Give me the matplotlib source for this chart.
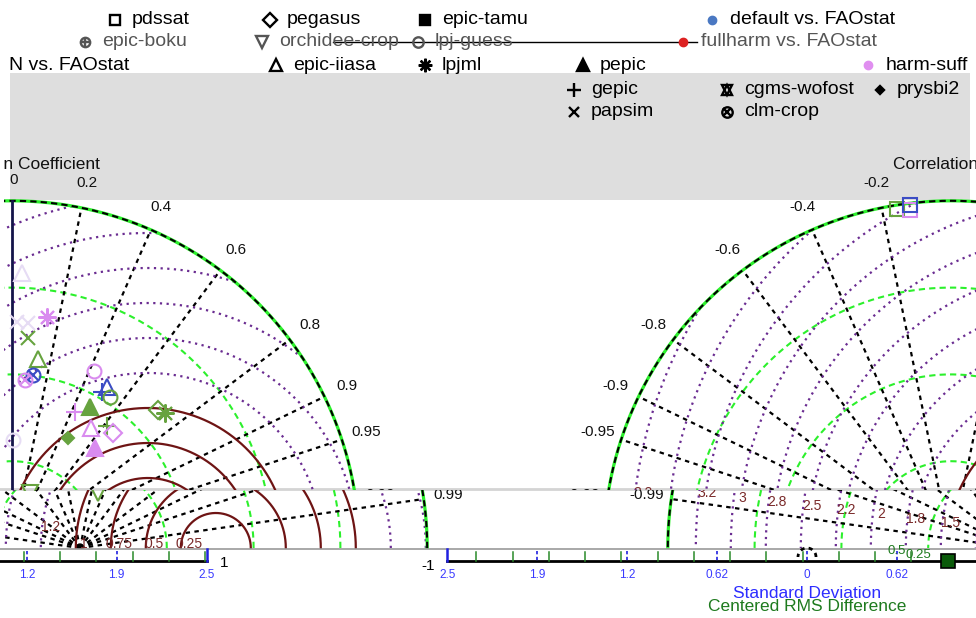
import numpy as np
import matplotlib
matplotlib.use("Agg")
import matplotlib.pyplot as plt
from matplotlib.patches import Rectangle
from matplotlib.transforms import Bbox

plt.rcParams['font.family'] = ['Liberation Sans', 'DejaVu Sans']

# ---------------- data ----------------
sd_max = 2.48
ref_sd = 0.97
sd_ticks = [0.62, 1.24, 1.86, 2.48]
sd_tick_labels = ['0.62', '1.2', '1.9', '2.5']
cor_ticks = [0.2, 0.4, 0.6, 0.8, 0.9, 0.95, 0.99]
rms_levels = [0.25, 0.5, 0.75, 1.0, 1.25, 1.5, 1.75, 2.0, 2.25, 2.5, 2.75, 3.0, 3.25]
rms_labels = ['0.25', '0.5', '0.75', '1', '1.2', '1.5', '1.8', '2', '2.2', '2.5', '2.8', '3', '3.2']

models = ['pdssat', 'pegasus', 'epic-tamu', 'epic-boku', 'orchidee-crop', 'lpj-guess',
          'epic-iiasa', 'lpjml', 'pepic', 'gepic', 'papsim', 'cgms-wofost', 'clm-crop', 'prysbi2']
scenarios = ['default vs. FAOstat', 'fullharm vs. FAOstat', 'fullharm-noN vs. FAOstat', 'harm-suff']

pt_model = ['lpjml', 'papsim', 'epic-iiasa', 'clm-crop', 'clm-crop', 'lpj-guess', 'epic-iiasa',
            'gepic', 'lpj-guess', 'gepic', 'pepic', 'pegasus', 'lpjml', 'epic-iiasa', 'gepic',
            'pegasus', 'prysbi2', 'pepic', 'orchidee-crop', 'pdssat', 'pdssat', 'pdssat']
pt_scen = ['harm-suff', 'fullharm-noN vs. FAOstat', 'fullharm-noN vs. FAOstat', 'default vs. FAOstat',
           'harm-suff', 'harm-suff', 'default vs. FAOstat', 'default vs. FAOstat',
           'fullharm-noN vs. FAOstat', 'harm-suff', 'fullharm-noN vs. FAOstat',
           'fullharm-noN vs. FAOstat', 'fullharm-noN vs. FAOstat', 'harm-suff',
           'fullharm-noN vs. FAOstat', 'harm-suff', 'fullharm-noN vs. FAOstat', 'harm-suff',
           'fullharm-noN vs. FAOstat', 'fullharm-noN vs. FAOstat', 'harm-suff', 'default vs. FAOstat']
pt_sd = [1.669, 1.504, 1.363, 1.245, 1.204, 1.393, 1.335, 1.286, 1.286, 1.071, 1.151,
         1.435, 1.457, 1.026, 1.104, 1.093, 0.882, 0.928, 0.413, 2.452, 2.432, 2.467]
pt_cor = [0.150, 0.076, 0.136, 0.120, 0.077, 0.420, 0.508, 0.500, 0.544, 0.420, 0.484,
          0.727, 0.750, 0.550, 0.614, 0.660, 0.454, 0.639, 0.311, -0.157, -0.120, -0.119]

faded_model = ['papsim', 'papsim', 'epic-iiasa', 'lpj-guess']
faded_sd = [1.615, 1.611, 1.965, 0.771]
faded_cor = [0.022, 0.071, 0.036, 0.009]

# ---------------- style ----------------
W, H = 976, 618
S = 140.0
LIME = '#2cf02c'
BROWN = '#6e1414'
PURPLE = '#6a2c91'
BLUE = '#3a3aff'
DKGREEN = '#1e7a1e'
FADED = '#e6dcf4'
scen_color = {'default vs. FAOstat': '#3b4cc4', 'fullharm vs. FAOstat': '#dd2222',
              'fullharm-noN vs. FAOstat': '#67a33f', 'harm-suff': '#d98bef'}
legend_dot_color = {'default vs. FAOstat': '#4a78c2', 'fullharm vs. FAOstat': '#dd2222',
                    'fullharm-noN vs. FAOstat': '#67a33f', 'harm-suff': '#e08ff0'}
MARK = {
    'pdssat': [('s', False, 10)],
    'pegasus': [('D', False, 9)],
    'epic-tamu': [('s', True, 9)],
    'epic-boku': [('o', False, 9), ('+', False, 9)],
    'orchidee-crop': [('v', False, 11)],
    'lpj-guess': [('o', False, 10)],
    'epic-iiasa': [('^', False, 11)],
    'lpjml': [((8, 2, 0), False, 13)],
    'pepic': [('^', True, 11)],
    'gepic': [('+', False, 13)],
    'papsim': [('x', False, 10)],
    'cgms-wofost': [('^', False, 10), ('v', False, 10)],
    'clm-crop': [('o', False, 10), ('x', False, 7)],
    'prysbi2': [('D', True, 6)],
}


def put_marker(ax, x, y, model, color, scale=1.0, z=6, mew=1.5):
    for m, filled, ms in MARK[model]:
        ax.plot([x], [y], ls='none', marker=m, ms=ms * scale,
                mfc=color if filled else 'none', mec=color, mew=mew, zorder=z)


fig = plt.figure(figsize=(W / 100, H / 100), dpi=100)

# ---------- background overlay (pixel coordinates) ----------
ov = fig.add_axes([0, 0, 1, 1])
ov.set_xlim(0, W)
ov.set_ylim(H, 0)
ov.set_axis_off()
ov.add_patch(Rectangle((10, 73), 960, 127, color='#dedede', lw=0, zorder=0))
ov.plot([0, W], [489, 489], color='#d4d4d4', lw=2, zorder=1)
ov.plot([333, 697], [42, 42], color='black', lw=1, zorder=1)

# legend (layout positions)
leg_rows = [
    (20, [('pdssat', 115), ('pegasus', 270), ('epic-tamu', 425), ('default vs. FAOstat', 712)]),
    (42, [('epic-boku', 85), ('orchidee-crop', 262), ('lpj-guess', 418), ('fullharm vs. FAOstat', 683)]),
    (65, [('epic-iiasa', 276), ('lpjml', 425), ('pepic', 583), ('harm-suff', 868)]),
    (90, [('gepic', 574), ('cgms-wofost', 727), ('prysbi2', 880)]),
    (112, [('papsim', 574), ('clm-crop', 727)]),
]
for ypos, items in leg_rows:
    for name, xm in items:
        tcol = '#555555' if ypos == 42 else 'black'
        if name in MARK:
            put_marker(ov, xm, ypos, name, tcol, scale=0.75, z=3, mew=1.7)
            ov.text(xm + 17, ypos, name, fontsize=14, va='center', ha='left', color=tcol)
        else:
            ov.plot([xm], [ypos], 'o', ms=6, color=legend_dot_color[name], zorder=3)
            ov.text(xm + 18, ypos, name, fontsize=14, va='center', ha='left', color=tcol)
cut = ov.text(129, 65, scenarios[2], fontsize=14, va='center', ha='right', color='black')
cut.set_clip_box(Bbox.from_extents(9, 0, W, H))
cut.set_clip_on(True)


# ---------- Taylor diagram tiles ----------
def make_tile(px0, px1, pytop, pybot, ox, oy):
    ax = fig.add_axes([px0 / W, (H - pybot) / H, (px1 - px0) / W, (pybot - pytop) / H])
    ax.set_xlim((px0 - ox) / S, (px1 - ox) / S)
    ax.set_ylim((oy - pybot) / S, (oy - pytop) / S)
    ax.set_axis_off()
    ax.patch.set_visible(False)
    return ax


def draw_diagram(ax, show_axis, title_x, title_ha, side):
    t = np.linspace(0, np.pi, 1500)
    for r in sd_ticks[:-1]:
        ax.plot(r * np.cos(t), r * np.sin(t), color=LIME, lw=1.5, ls=(0, (3, 2)), zorder=2)
    ax.plot(sd_max * np.cos(t), sd_max * np.sin(t), color=LIME, lw=2.3, zorder=3)
    ax.plot(sd_max * np.cos(t), sd_max * np.sin(t), color='black', lw=1.5, ls=(0, (3, 2)), zorder=3)
    for c in cor_ticks + [-c for c in cor_ticks]:
        th = np.arccos(c)
        ax.plot([0, sd_max * np.cos(th)], [0, sd_max * np.sin(th)], color='black',
                lw=1.6, ls=(0, (2, 2)), zorder=2)
        ax.text(2.66 * np.cos(th), 2.66 * np.sin(th), f'{c:g}', fontsize=11,
                ha='center', va='center', color='#111111')
    for L, lab in zip(rms_levels, rms_labels):
        x = ref_sd + L * np.cos(t)
        y = L * np.sin(t)
        inside = x ** 2 + y ** 2 <= sd_max ** 2
        x = np.where(inside, x, np.nan)
        y = np.where(inside, y, np.nan)
        if L <= 1.0:
            ax.plot(x, y, color=BROWN, lw=1.6, zorder=2)
            yl = 0.03
        else:
            ax.plot(x, y, color=PURPLE, lw=1.6, ls=(0, (1, 2)), zorder=2)
            yl = min(0.12 * L, 0.42)
        xl = ref_sd - np.sqrt(L ** 2 - yl ** 2) + 0.06
        if xl * side >= -0.3:
            ax.text(xl, yl, lab, fontsize=10, ha='center', va='center', color='#7a2a2a', zorder=4)
    if show_axis:
        ax.plot([0, 0], [0, sd_max], color='#14144a', lw=2, zorder=3)
        ax.text(0.01, 2.63, '0', fontsize=11, ha='center', va='center', color='#111111')
    ax.text(title_x, 2.74, 'Correlation Coefficient', fontsize=12.5, ha=title_ha,
            va='center', color='#111111')
    for m, sd, c in zip(faded_model, faded_sd, faded_cor):
        if c * side >= 0:
            put_marker(ax, sd * c, sd * np.sqrt(1 - c ** 2), m, FADED, z=5)
    for m, sc, sd, c in zip(pt_model, pt_scen, pt_sd, pt_cor):
        if c * side >= 0:
            put_marker(ax, sd * c, sd * np.sqrt(1 - c ** 2), m, scen_color[sc], z=6)
    for tx in ax.texts:
        tx.set_clip_box(ax.bbox)
        tx.set_clip_on(True)


tiles = [
    (make_tile(4, 500, 120, 490, 12, 548), True, 0.629, 'right', 1),
    (make_tile(500, 976, 120, 490, 951, 548), False, -0.414, 'left', -1),
    (make_tile(4, 500, 490, 549, 80, 548), False, 0.629, 'right', 1),
    (make_tile(500, 976, 490, 549, 1015, 548), False, -0.414, 'left', -1),
]
for ax, show, tx_, ha_, sd_side in tiles:
    draw_diagram(ax, show, tx_, ha_, sd_side)

# ---------- bottom axis strip ----------
S2 = 145.0
X0 = 807
P = 960 / S2
axb = fig.add_axes([0, 0, 1, (H - 545) / H])
axb.set_xlim((0 - X0) / S2, (W - X0) / S2)
axb.set_ylim(H, 545)
axb.set_axis_off()
axb.patch.set_visible(False)
axb.plot([(0 - X0) / S2, (W - X0) / S2], [548.5, 548.5], color='#9a9a9a', lw=1.2)

vals = [-v for v in sd_ticks[::-1]] + [0] + sd_ticks
labs = sd_tick_labels[::-1] + ['0'] + sd_tick_labels
rms_ticks = [ref_sd + 0.25 * k for k in range(-14, 7) if abs(ref_sd + 0.25 * k) <= sd_max and k != 0]
for off in (0, -P):
    axb.plot([-sd_max + off, sd_max + off], [561, 561], color='black', lw=2)
    for v in (-sd_max, sd_max):
        axb.plot([v + off, v + off], [549, 561], color='#2020e0', lw=1.8)
    for v, lab in zip(vals, labs):
        if abs(v) < sd_max:
            axb.plot([v + off, v + off], [551, 561], color='#2020e0', lw=1.2, ls=(0, (2, 1.5)))
        axb.text(v + off, 575, lab, fontsize=8.5, ha='center', va='center', color=BLUE, clip_on=True)
    for v in rms_ticks:
        axb.plot([v + off, v + off], [552, 561], color='#2a8a2a', lw=1.1)
    axb.text(-sd_max - 0.13 + off, 566, '-1', fontsize=11, ha='center', va='center', color='black')
    axb.text(sd_max + 0.12 + off, 563, '1', fontsize=11, ha='center', va='center', color='black')
axb.text(ref_sd - 0.5 + 0.15, 551, rms_labels[1], fontsize=9.5, ha='center', va='center', color=DKGREEN)
axb.text(ref_sd - 0.25 + 0.05, 555, rms_labels[0], fontsize=9.5, ha='center', va='center', color=DKGREEN)
ts = np.linspace(0, np.pi, 60)
axb.plot(9 / S2 * np.cos(ts), 557 - 9 * np.sin(ts), color='black', lw=2, ls=(0, (1.5, 1.5)))
axb.plot([ref_sd], [561], marker='s', ms=10, mfc='#0a5a0a', mec='black', mew=1.2, clip_on=False)
axb.text(0, 593, 'Standard Deviation', fontsize=12.5, ha='center', va='center', color='#2d2dff')
axb.text(0, 606, 'Centered RMS Difference', fontsize=12.5, ha='center', va='center', color=DKGREEN)

fig.savefig('out.png', dpi=100)
